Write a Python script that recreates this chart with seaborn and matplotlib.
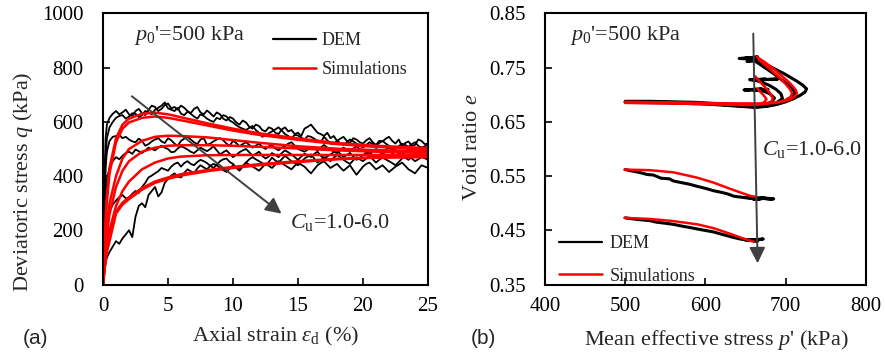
import matplotlib
matplotlib.use("Agg")
import matplotlib.pyplot as plt
import seaborn as sns
import pandas as pd
from matplotlib.lines import Line2D

# ---------------- data: panel (a) ----------------
strain_dem = [0, 0.1, 0.2, 0.3, 0.5, 0.75,
              1.0, 1.25, 1.5, 1.75, 2.0, 2.25, 2.5, 2.75, 3.0, 3.25, 3.5, 3.75,
              4.0, 4.25, 4.5, 4.75, 5.0, 5.25, 5.5, 5.75, 6.0, 6.25, 6.5, 6.75,
              7.0, 7.25, 7.5, 7.75, 8.0, 8.25, 8.5, 8.75, 9.0, 9.25, 9.5, 9.75,
              10.0, 10.25, 10.5, 10.75, 11.0, 11.25, 11.5, 11.75, 12.0, 12.25, 12.5, 12.75,
              13.0, 13.25, 13.5, 13.75, 14.0, 14.25, 14.5, 14.75, 15.0, 15.25, 15.5, 15.75,
              16.0, 16.25, 16.5, 16.75, 17.0, 17.25, 17.5, 17.75, 18.0, 18.25, 18.5, 18.75,
              19.0, 19.25, 19.5, 19.75, 20.0, 20.25, 20.5, 20.75, 21.0, 21.25, 21.5, 21.75,
              22.0, 22.25, 22.5, 22.75, 23.0, 23.25, 23.5, 23.75, 24.0, 24.25, 24.5, 24.75,
              25.0]
q_dem_1 = [0, 380, 540, 590, 615, 630,
           640, 628, 635, 645, 628, 622, 640, 648, 632, 625, 645, 660,
           655, 640, 648, 662, 668, 650, 655, 645, 660, 652, 640, 632,
           648, 655, 635, 628, 642, 632, 620, 635, 628, 612, 605, 618,
           612, 598, 590, 605, 598, 582, 575, 590, 585, 570, 565, 580,
           575, 560, 555, 572, 580, 565, 570, 555, 560, 548, 575, 582,
           590, 575, 560, 555, 548, 560, 540, 548, 530, 538, 545, 530,
           522, 540, 535, 525, 520, 532, 540, 525, 515, 530, 528, 538,
           545, 530, 520, 535, 510, 522, 528, 512, 515, 535, 530, 518,
           520]
q_dem_2 = [0, 300, 470, 540, 580, 600,
           615, 622, 625, 612, 620, 632, 630, 618, 625, 640, 635, 628,
           645, 652, 660, 672, 650, 645, 640, 652, 630, 625, 638, 630,
           620, 612, 628, 622, 612, 605, 600, 615, 610, 625, 620, 605,
           598, 588, 580, 575, 570, 578, 585, 570, 560, 545, 550, 558,
           565, 572, 580, 568, 555, 548, 540, 552, 550, 542, 535, 548,
           545, 538, 530, 525, 545, 532, 520, 518, 530, 522, 515, 525,
           535, 528, 520, 512, 505, 515, 525, 518, 510, 522, 530, 520,
           512, 505, 500, 510, 520, 515, 508, 518, 525, 512, 505, 510,
           515]
q_dem_3 = [0, 280, 430, 490, 530, 545,
           548, 552, 540, 545, 535, 528, 525, 538, 530, 512, 518, 528,
           535, 540, 528, 522, 540, 532, 520, 512, 530, 538, 545, 535,
           525, 518, 535, 540, 515, 520, 528, 535, 540, 532, 520, 512,
           530, 522, 510, 518, 525, 515, 505, 512, 520, 508, 500, 510,
           515, 502, 495, 505, 510, 520, 525, 512, 500, 495, 490, 498,
           508, 502, 495, 505, 515, 505, 498, 490, 485, 495, 505, 498,
           490, 502, 510, 500, 495, 488, 480, 492, 500, 495, 488, 498,
           505, 498, 492, 485, 478, 490, 498, 492, 485, 495, 505, 498,
           492]
q_dem_4 = [0, 200, 330, 390, 430, 455,
           470, 462, 475, 485, 490, 482, 498, 492, 485, 495, 505, 500,
           495, 505, 512, 505, 500, 488, 490, 502, 510, 505, 498, 490,
           485, 495, 505, 498, 492, 500, 510, 495, 480, 488, 495, 482,
           470, 478, 488, 495, 500, 488, 475, 482, 490, 475, 465, 472,
           485, 478, 470, 485, 495, 488, 480, 470, 460, 472, 482, 478,
           470, 482, 490, 475, 465, 472, 480, 488, 495, 482, 470, 478,
           485, 472, 460, 468, 478, 485, 490, 475, 468, 478, 485, 478,
           470, 482, 492, 485, 475, 468, 460, 472, 482, 476, 470, 480,
           488]
q_dem_5 = [0, 120, 190, 230, 270, 295,
           310, 322, 330, 318, 320, 335, 345, 338, 360, 375, 395, 402,
           410, 418, 430, 425, 420, 435, 445, 450, 435, 448, 455, 445,
           440, 452, 460, 455, 448, 438, 430, 442, 455, 462, 465, 452,
           445, 430, 420, 435, 450, 462, 470, 462, 455, 448, 440, 452,
           468, 458, 450, 462, 475, 465, 455, 448, 440, 452, 465, 472,
           480, 465, 450, 458, 470, 462, 455, 468, 478, 470, 460, 452,
           445, 458, 470, 462, 455, 465, 475, 462, 450, 460, 468, 462,
           455, 448, 440, 452, 465, 472, 478, 465, 455, 462, 470, 466,
           460]
q_dem_6 = [0, 50, 80, 100, 120, 140,
           160, 150, 170, 185, 200, 175, 250, 290, 300, 285, 330, 345,
           360, 325, 340, 375, 390, 402, 410, 398, 395, 412, 425, 418,
           410, 428, 440, 432, 425, 438, 445, 440, 430, 422, 415, 428,
           440, 432, 425, 438, 450, 442, 435, 428, 420, 432, 445, 438,
           430, 442, 455, 448, 440, 432, 425, 438, 450, 442, 435, 422,
           410, 425, 440, 448, 455, 442, 430, 438, 445, 432, 420, 430,
           440, 422, 405, 420, 435, 445, 450, 438, 425, 432, 440, 428,
           415, 425, 435, 442, 450, 438, 425, 418, 410, 425, 440, 435,
           430]

strain_sim = [0, 0.25, 0.5, 1, 1.5, 2, 3, 4, 5, 6, 8, 10, 12, 15, 18, 21, 25]
q_sim_1 = [0, 300, 430, 540, 590, 612, 630, 634, 628, 617, 595, 575, 558, 539, 522, 512, 503]
q_sim_2 = [0, 280, 410, 525, 575, 598, 615, 620, 615, 606, 587, 568, 552, 534, 518, 508, 498]
q_sim_3 = [0, 200, 300, 400, 465, 500, 530, 545, 549, 548, 543, 533, 523, 510, 501, 496, 492]
q_sim_4 = [0, 170, 260, 360, 420, 455, 490, 505, 512, 514, 514, 512, 508, 502, 495, 490, 485]
q_sim_5 = [0, 130, 200, 290, 345, 380, 425, 450, 465, 472, 477, 478, 478, 478, 478, 478, 478]
q_sim_6 = [0, 110, 160, 262, 295, 315, 350, 375, 390, 402, 418, 430, 440, 452, 462, 468, 472]
q_sim_7 = [0, 120, 170, 270, 302, 322, 356, 380, 395, 407, 422, 434, 444, 455, 464, 469, 470]

# ---------------- data: panel (b) ----------------
p_dem_1 = [500, 530, 560, 590, 620, 645, 662, 675, 688, 700, 710, 718, 724, 726, 721,
           714, 706, 698, 690, 682, 675, 668, 662, 658, 648, 665, 655, 642, 660]
e_dem_1 = [0.688, 0.688, 0.687, 0.686, 0.683, 0.680, 0.678, 0.679, 0.682, 0.687, 0.693,
           0.699, 0.705, 0.711, 0.718, 0.725, 0.732, 0.739, 0.745, 0.751, 0.756, 0.761,
           0.765, 0.768, 0.767, 0.770, 0.766, 0.767, 0.769]
p_dem_2 = [500, 540, 580, 620, 648, 665, 678, 690, 700, 708, 712, 708, 700, 692, 684,
           676, 669, 664, 660, 652, 668, 658]
e_dem_2 = [0.687, 0.687, 0.685, 0.682, 0.679, 0.677, 0.679, 0.683, 0.689, 0.696, 0.704,
           0.712, 0.722, 0.731, 0.740, 0.748, 0.755, 0.760, 0.763, 0.762, 0.764, 0.763]
p_dem_3 = [500, 550, 600, 640, 662, 676, 688, 696, 694, 688, 680, 672, 664, 655, 675,
           660, 690, 668]
e_dem_3 = [0.687, 0.686, 0.684, 0.680, 0.678, 0.680, 0.685, 0.693, 0.702, 0.710, 0.717,
           0.722, 0.726, 0.728, 0.729, 0.727, 0.729, 0.728]
p_dem_4 = [500, 550, 600, 640, 660, 672, 682, 686, 680, 672, 662, 650, 670, 660, 678,
           648, 665]
e_dem_4 = [0.686, 0.685, 0.683, 0.679, 0.677, 0.680, 0.686, 0.694, 0.702, 0.707, 0.710,
           0.709, 0.711, 0.708, 0.710, 0.709, 0.710]
p_dem_5 = [500, 510, 520, 527, 535, 545, 555, 560, 570, 580, 590, 601, 610, 620, 628,
           635, 645, 655, 664, 672, 680, 685, 670, 660, 675, 650, 668]
e_dem_5 = [0.562, 0.559, 0.556, 0.553, 0.552, 0.546, 0.545, 0.541, 0.538, 0.535, 0.531,
           0.527, 0.523, 0.520, 0.517, 0.513, 0.511, 0.509, 0.508, 0.509, 0.507, 0.508,
           0.510, 0.507, 0.509, 0.511, 0.508]
p_dem_6 = [500, 515, 530, 539, 550, 560, 570, 581, 595, 610, 622, 632, 643, 652, 660,
           668, 672, 655, 665, 648, 662]
e_dem_6 = [0.473, 0.470, 0.468, 0.465, 0.463, 0.461, 0.458, 0.455, 0.451, 0.447, 0.442,
           0.438, 0.434, 0.432, 0.431, 0.433, 0.434, 0.432, 0.430, 0.433, 0.432]

p_sim_1 = [500, 550, 600, 640, 670, 690, 703, 711, 714, 712, 705, 695, 685, 675, 668, 664]
e_sim_1 = [0.687, 0.686, 0.685, 0.684, 0.684, 0.686, 0.690, 0.696, 0.703, 0.710, 0.722,
           0.735, 0.748, 0.759, 0.766, 0.770]
p_sim_2 = [500, 550, 600, 640, 670, 688, 699, 706, 708, 705, 698, 689, 679, 671, 666]
e_sim_2 = [0.686, 0.685, 0.684, 0.683, 0.683, 0.685, 0.690, 0.696, 0.703, 0.711, 0.723,
           0.736, 0.749, 0.759, 0.765]
p_sim_3 = [500, 560, 620, 655, 672, 682, 684, 680, 673, 666, 662]
e_sim_3 = [0.686, 0.685, 0.683, 0.682, 0.683, 0.687, 0.694, 0.704, 0.716, 0.727, 0.734]
p_sim_4 = [500, 560, 620, 650, 665, 673, 676, 672, 668, 665]
e_sim_4 = [0.685, 0.684, 0.682, 0.681, 0.682, 0.686, 0.692, 0.700, 0.706, 0.711]
p_sim_5 = [499, 530, 560, 590, 610, 630, 645, 657, 662]
e_sim_5 = [0.562, 0.561, 0.557, 0.547, 0.538, 0.527, 0.519, 0.513, 0.512]
p_sim_6 = [499, 530, 560, 590, 610, 630, 645, 660]
e_sim_6 = [0.473, 0.471, 0.467, 0.461, 0.454, 0.444, 0.436, 0.429]

x_ticks_a = [0, 5, 10, 15, 20, 25]
y_ticks_a = [0, 200, 400, 600, 800, 1000]
x_ticks_b = [400, 500, 600, 700, 800]
y_ticks_b = [0.35, 0.45, 0.55, 0.65, 0.75, 0.85]
y_tick_labels_b = ["0.35", "0.45", "0.55", "0.65", "0.75", "0.85"]


def long_df(xs_list, ys_list):
    frames = []
    for i, (xs, ys) in enumerate(zip(xs_list, ys_list)):
        frames.append(pd.DataFrame({"x": xs, "y": ys, "curve": i}))
    return pd.concat(frames, ignore_index=True)


dem_a = long_df([strain_dem] * 6, [q_dem_1, q_dem_2, q_dem_3, q_dem_4, q_dem_5, q_dem_6])
sim_a = long_df([strain_sim] * 7, [q_sim_1, q_sim_2, q_sim_3, q_sim_4, q_sim_5, q_sim_6, q_sim_7])
dem_b = long_df([p_dem_1, p_dem_2, p_dem_3, p_dem_4, p_dem_5, p_dem_6],
                [e_dem_1, e_dem_2, e_dem_3, e_dem_4, e_dem_5, e_dem_6])
sim_b = long_df([p_sim_1, p_sim_2, p_sim_3, p_sim_4, p_sim_5, p_sim_6],
                [e_sim_1, e_sim_2, e_sim_3, e_sim_4, e_sim_5, e_sim_6])

# ---------------- style ----------------
sns.set_style("ticks")
plt.rcParams["font.family"] = ["Liberation Serif", "DejaVu Serif"]
plt.rcParams["mathtext.fontset"] = "custom"
plt.rcParams["mathtext.rm"] = "Liberation Serif"
plt.rcParams["mathtext.it"] = "Liberation Serif:italic"
plt.rcParams["mathtext.bf"] = "Liberation Serif:bold"

FS_TICK = 15
FS_LAB = 16
FS_LEG = 13
fig = plt.figure(figsize=(8.85, 3.53), dpi=100)
ax1 = fig.add_axes([0.1164, 0.194, 0.3672, 0.7678])
ax2 = fig.add_axes([0.6158, 0.194, 0.3627, 0.7678])

RED = "#ff0000"
GREY = "#404040"

# panel (a)
sns.lineplot(data=dem_a, x="x", y="y", units="curve", estimator=None, sort=False,
             color="black", lw=1.3, legend=False, ax=ax1)
sns.lineplot(data=sim_a, x="x", y="y", units="curve", estimator=None, sort=False,
             color=RED, lw=1.8, legend=False, ax=ax1)
ax1.set_xlim(0, 25)
ax1.set_ylim(0, 1000)
ax1.set_xticks(x_ticks_a)
ax1.set_yticks(y_ticks_a)
ax1.set_xlabel(r"Axial strain $\varepsilon_{\mathrm{d}}$ (%)", fontsize=FS_LAB)
ax1.set_ylabel(r"Deviatoric stress $q$ (kPa)", fontsize=FS_LAB)
ax1.xaxis.set_label_coords(0.53, -0.15)
ax1.yaxis.set_label_coords(-0.209, 0.38)
ax1.annotate("", xy=(13.9, 255), xytext=(2.05, 701),
             arrowprops=dict(arrowstyle="-|>", color=GREY, lw=1.4, mutation_scale=24))
ax1.text(14.4, 230, r"$C_{\mathrm{u}}$=1.0-6.0", fontsize=16, va="center", ha="left")
ax1.text(2.35, 920, r"$p_0$'=500 kPa", fontsize=FS_LAB, va="center", ha="left")
h_dem = Line2D([], [], color="black", lw=1.6)
h_sim = Line2D([], [], color=RED, lw=1.8)
ax1.legend([h_dem, h_sim], ["DEM", "Simulations"], loc="upper left",
           bbox_to_anchor=(0.522, 0.93), frameon=False, fontsize=FS_LEG, handlelength=2.4,
           borderpad=0, borderaxespad=0, labelspacing=0.65, handletextpad=0.3)

# panel (b)
sns.lineplot(data=dem_b, x="x", y="y", units="curve", estimator=None, sort=False,
             color="black", lw=2.2, legend=False, ax=ax2)
sns.lineplot(data=sim_b, x="x", y="y", units="curve", estimator=None, sort=False,
             color=RED, lw=1.8, legend=False, ax=ax2)
ax2.set_xlim(400, 800)
ax2.set_ylim(0.35, 0.85)
ax2.set_xticks(x_ticks_b)
ax2.set_yticks(y_ticks_b)
ax2.set_yticklabels(y_tick_labels_b)
ax2.set_xlabel(r"Mean effective stress $p$' (kPa)", fontsize=FS_LAB)
ax2.set_ylabel(r"Void ratio $e$", fontsize=FS_LAB)
ax2.xaxis.set_label_coords(0.535, -0.16)
ax2.yaxis.set_label_coords(-0.195, 0.506)
ax2.annotate("", xy=(665, 0.384), xytext=(659.5, 0.818),
             arrowprops=dict(arrowstyle="-|>", color=GREY, lw=1.4, mutation_scale=24))
ax2.text(670, 0.60, r"$C_{\mathrm{u}}$=1.0-6.0", fontsize=16, va="center", ha="left")
ax2.text(431, 0.809, r"$p_0$'=500 kPa", fontsize=FS_LAB, va="center", ha="left")
ax2.legend([h_dem, h_sim], ["DEM", "Simulations"], loc="lower left",
           bbox_to_anchor=(0.044, 0.0), frameon=False, fontsize=FS_LEG, handlelength=2.4,
           borderpad=0, borderaxespad=0, labelspacing=0.85, handletextpad=0.4)

for ax in (ax1, ax2):
    for s in ax.spines.values():
        s.set_visible(True)
        s.set_linewidth(1.5)
        s.set_color("black")
    ax.tick_params(direction="in", length=5, width=1.2, labelsize=FS_TICK, colors="black")
    ax.tick_params(axis="y", pad=14)
    ax.tick_params(axis="x", pad=9)

fig.text(23 / 885, 1 - 338 / 353, "(a)", fontsize=15, family="Liberation Sans", va="center")
fig.text(471 / 885, 1 - 338 / 353, "(b)", fontsize=15, family="Liberation Sans", va="center")

fig.savefig("out.png", dpi=100)
